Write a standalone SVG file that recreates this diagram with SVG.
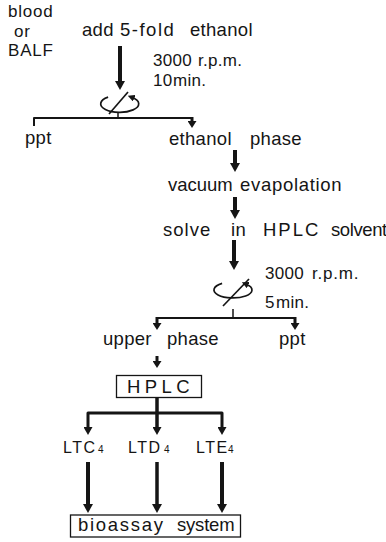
<svg xmlns="http://www.w3.org/2000/svg" width="386" height="542" viewBox="0 0 386 542">
<defs>
<style>
.t{font-family:"Liberation Sans",Arial,sans-serif;font-size:18.5px;fill:#151515;letter-spacing:0.3px}
.s{font-family:"Liberation Sans",Arial,sans-serif;font-size:17px;fill:#151515;letter-spacing:0.8px}
.n{font-family:"Liberation Sans",Arial,sans-serif;font-size:17px;fill:#151515;letter-spacing:0.3px}
.lt{font-family:"Liberation Sans",Arial,sans-serif;font-size:16px;fill:#151515;letter-spacing:1.5px}
.sub{font-size:10px;letter-spacing:0}
.c{fill:none;stroke:#151515;stroke-linecap:butt;stroke-linejoin:round}
.box{fill:#fff;stroke:#151515;stroke-width:1.3}
.rot{fill:none;stroke:#151515;stroke-width:1.7}
</style>
<marker id="big" viewBox="0 0 9 10" markerWidth="9" markerHeight="10" refX="3" refY="5" orient="auto" markerUnits="userSpaceOnUse"><path d="M0,0 L9,5 L0,10 z" fill="#151515"/></marker>
<marker id="sm" viewBox="0 0 7 9" markerWidth="7" markerHeight="9" refX="3" refY="4.5" orient="auto" markerUnits="userSpaceOnUse"><path d="M0,0 L7,4.5 L0,9 z" fill="#151515"/></marker>
<marker id="mid" viewBox="0 0 8 9" markerWidth="8" markerHeight="9" refX="3" refY="4.5" orient="auto" markerUnits="userSpaceOnUse"><path d="M0,0 L8,4.5 L0,9 z" fill="#151515"/></marker>
<marker id="rh" viewBox="0 0 7 7" markerWidth="7" markerHeight="7" refX="2" refY="3.5" orient="auto" markerUnits="userSpaceOnUse"><path d="M0,0 L7,3.5 L0,7 z" fill="#151515"/></marker>
</defs>
<rect width="386" height="542" fill="#fff"/>

<g id="connectors">
<line class="c" x1="120" y1="46" x2="120" y2="84" stroke-width="4" marker-end="url(#big)"/>
<path class="c" d="M34 126 V118 H192" stroke-width="2"/>
<line class="c" x1="192" y1="117" x2="192" y2="124" stroke-width="3" marker-end="url(#sm)"/>
<line class="c" x1="118" y1="112" x2="118" y2="118" stroke-width="1.5"/>
<line class="c" x1="235" y1="150" x2="235" y2="166" stroke-width="4" marker-end="url(#big)"/>
<line class="c" x1="235" y1="197" x2="235" y2="213" stroke-width="4" marker-end="url(#big)"/>
<line class="c" x1="234" y1="240" x2="234" y2="264" stroke-width="4" marker-end="url(#big)"/>
<line class="c" x1="233" y1="309" x2="233" y2="318" stroke-width="1.5"/>
<line class="c" x1="157" y1="318" x2="295" y2="318" stroke-width="2"/>
<line class="c" x1="157" y1="317" x2="157" y2="326" stroke-width="3" marker-end="url(#sm)"/>
<line class="c" x1="295" y1="317" x2="295" y2="326" stroke-width="3" marker-end="url(#sm)"/>
<line class="c" x1="157" y1="356" x2="157" y2="364" stroke-width="3" marker-end="url(#sm)"/>
<line class="c" x1="157" y1="398" x2="157" y2="413" stroke-width="3.5"/>
<path class="c" d="M88 430 V413 H222 V430" stroke-width="3"/>
<line class="c" x1="88" y1="428" x2="88" y2="430" stroke-width="3" marker-end="url(#mid)"/>
<line class="c" x1="157" y1="413" x2="157" y2="430" stroke-width="3.5" marker-end="url(#mid)"/>
<line class="c" x1="222" y1="428" x2="222" y2="430" stroke-width="3" marker-end="url(#mid)"/>
<line class="c" x1="88" y1="462" x2="88" y2="507" stroke-width="4" marker-end="url(#big)"/>
<line class="c" x1="157" y1="462" x2="157" y2="507" stroke-width="3.5" marker-end="url(#big)"/>
<line class="c" x1="222" y1="462" x2="222" y2="507" stroke-width="4" marker-end="url(#big)"/>
</g>

<g id="centrifuge1">
<path class="rot" d="M108.1 97.1 A19 8.5 0 1 0 132.4 97.5" marker-end="url(#rh)"/>
<line class="rot" x1="109" y1="114" x2="128" y2="92"/>
<text class="n" x="153" y="66"><tspan x="153">3000</tspan><tspan x="198">r.p.m.</tspan></text>
<text class="n" x="153" y="86">10<tspan x="173">min.</tspan></text>
</g>

<g id="centrifuge2">
<path class="rot" d="M222.1 283.4 A19 8 0 1 0 246.4 284.3" marker-end="url(#rh)"/>
<line class="rot" x1="223" y1="306" x2="249" y2="279"/>
<text class="n" x="265" y="279"><tspan x="265">3000</tspan><tspan x="312" letter-spacing="0.8">r.p.m.</tspan></text>
<text class="n" x="265" y="308">5<tspan x="276">min.</tspan></text>
</g>

<g id="source">
<text class="s" x="8" y="17">blood</text>
<text class="s" x="14" y="36.5">or</text>
<text class="s" x="8" y="56" letter-spacing="4">BALF</text>
</g>

<g id="add-ethanol">
<text class="t" x="82" y="36"><tspan x="82">add</tspan><tspan x="120" letter-spacing="1.5">5-fold</tspan><tspan x="190">ethanol</tspan></text>
</g>

<g id="ppt1"><text class="t" x="25" y="144">ppt</text></g>
<g id="ethanol-phase"><text class="t" x="169" y="145"><tspan x="169">ethanol</tspan><tspan x="250">phase</tspan></text></g>
<g id="vacuum"><text class="t" x="168" y="191"><tspan x="168" letter-spacing="0">vacuum</tspan><tspan x="240" letter-spacing="0.7">evapolation</tspan></text></g>
<g id="solve"><text class="t" x="163" y="236"><tspan x="163" letter-spacing="1">solve</tspan><tspan x="231">in</tspan><tspan x="263" letter-spacing="2">HPLC</tspan><tspan x="331" letter-spacing="-0.4">solvent</tspan></text></g>
<g id="upper-phase"><text class="t" x="103" y="345"><tspan x="103">upper</tspan><tspan x="167">phase</tspan></text></g>
<g id="ppt2"><text class="t" x="279" y="345">ppt</text></g>

<g id="hplc">
<rect class="box" x="116.5" y="375.5" width="85" height="22"/>
<text class="t" x="127" y="393" textLength="63" lengthAdjust="spacing">HPLC</text>
</g>

<g id="ltc4"><text class="lt" x="63" y="453">LTC<tspan class="sub" x="98">4</tspan></text></g>
<g id="ltd4"><text class="lt" x="128" y="453">LTD<tspan class="sub" x="164">4</tspan></text></g>
<g id="lte4"><text class="lt" x="196" y="453">LTE<tspan class="sub" x="228">4</tspan></text></g>

<g id="bioassay">
<rect class="box" x="70.5" y="515" width="170" height="22"/>
<text class="t" x="78" y="531"><tspan x="78" letter-spacing="1.7">bioassay</tspan><tspan x="177" letter-spacing="-0.2">system</tspan></text>
</g>
</svg>
